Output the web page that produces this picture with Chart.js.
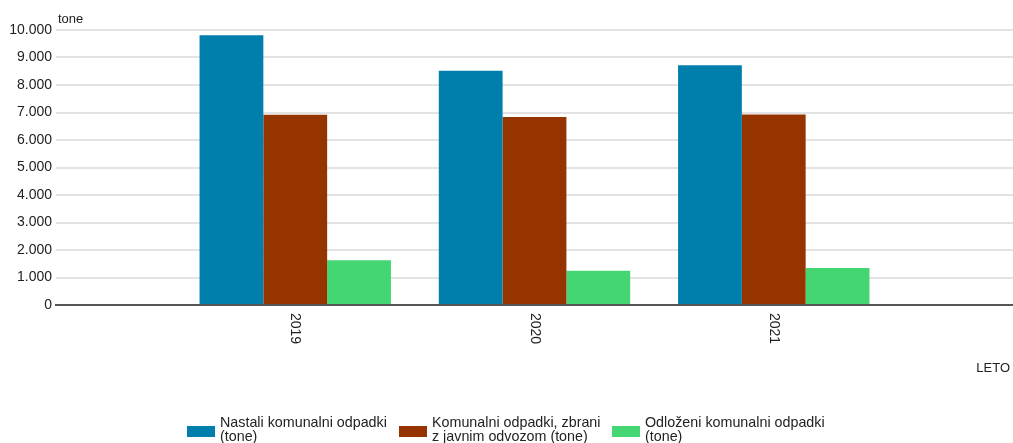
<!DOCTYPE html>
<html>
<head>
<meta charset="utf-8">
<script src="https://cdn.jsdelivr.net/npm/chart.js@4.4.1/dist/chart.umd.min.js"></script>
<style>
html, body { margin: 0; padding: 0; background: #fff; overflow: hidden; }
#wrap { width: 1013px; height: 443px; position: relative; }
</style>
</head>
<body>
<div id="wrap"><canvas id="myChart"></canvas></div>
<script>
// data
const years = ['', '2019', '2020', '2021', ''];
const nastali = [null, 9810, 8520, 8720, null];
const zbrani = [null, 6920, 6840, 6930, null];
const odlozeni = [null, 1630, 1250, 1350, null];
const seriesNames = [
    ['Nastali komunalni odpadki', '(tone)'],
    ['Komunalni odpadki, zbrani', 'z javnim odvozom (tone)'],
    ['Odloženi komunalni odpadki', '(tone)']
];
const colors = ['#007fad', '#963400', '#43d672'];
const yUnit = 'tone';
const xTitle = 'LETO';

const FONT = '"Liberation Sans", Arial, sans-serif';

function fmt(v) {
    return String(v).replace(/\B(?=(\d{3})+(?!\d))/g, '.');
}

// labels, axis titles and legend drawn by hand
const extras = {
    id: 'extras',
    afterDraw(chart) {
        const ctx = chart.ctx;
        const x = chart.scales.x;
        const area = chart.chartArea;
        ctx.save();
        ctx.fillStyle = '#222';
        ctx.font = '14px ' + FONT;
        ctx.textAlign = 'left';
        ctx.textBaseline = 'middle';
        years.forEach((y, i) => {
            if (!y) return;
            ctx.save();
            ctx.translate(x.getPixelForValue(i), area.bottom + 8);
            ctx.rotate(Math.PI / 2);
            ctx.fillText(y, 0, 0);
            ctx.restore();
        });

        ctx.font = '13px ' + FONT;
        ctx.textBaseline = 'alphabetic';
        ctx.fillText(yUnit, 58, 23);
        ctx.textAlign = 'right';
        ctx.fillText(xTitle, 1010, 372);

        // legend
        ctx.textAlign = 'left';
        ctx.font = '14.3px ' + FONT;
        const boxX = [187, 399, 612];
        for (let i = 0; i < seriesNames.length; i++) {
            ctx.fillStyle = colors[i];
            ctx.fillRect(boxX[i], 426, 28, 11);
            ctx.fillStyle = '#222';
            ctx.fillText(seriesNames[i][0], boxX[i] + 33, 426.5);
            ctx.fillText(seriesNames[i][1], boxX[i] + 33, 441);
        }
        ctx.restore();
    }
};

new Chart(document.getElementById('myChart'), {
    type: 'bar',
    data: {
        labels: years,
        datasets: [
            { label: seriesNames[0].join(' '), data: nastali, backgroundColor: colors[0] },
            { label: seriesNames[1].join(' '), data: zbrani, backgroundColor: colors[1] },
            { label: seriesNames[2].join(' '), data: odlozeni, backgroundColor: colors[2] }
        ]
    },
    options: {
        responsive: true,
        maintainAspectRatio: false,
        animation: false,
        layout: { padding: { top: 30, right: 0, bottom: 0, left: 0 } },
        datasets: { bar: { categoryPercentage: 0.8, barPercentage: 1.0 } },
        plugins: {
            legend: { display: false },
            tooltip: { enabled: false }
        },
        scales: {
            x: {
                offset: false,
                grid: { display: false, drawTicks: false },
                border: { color: '#555', width: 2 },
                ticks: { display: false },
                afterFit(scale) { scale.height = 138; }
            },
            y: {
                min: 0,
                max: 10000,
                ticks: {
                    stepSize: 1000,
                    color: '#222',
                    font: { family: FONT, size: 14 },
                    padding: 4,
                    callback: v => fmt(v)
                },
                grid: { color: '#e3e3e3', lineWidth: 2, drawTicks: false },
                border: { display: false },
                afterFit(scale) { scale.width = 56; }
            }
        }
    },
    plugins: [extras]
});
</script>
</body>
</html>
